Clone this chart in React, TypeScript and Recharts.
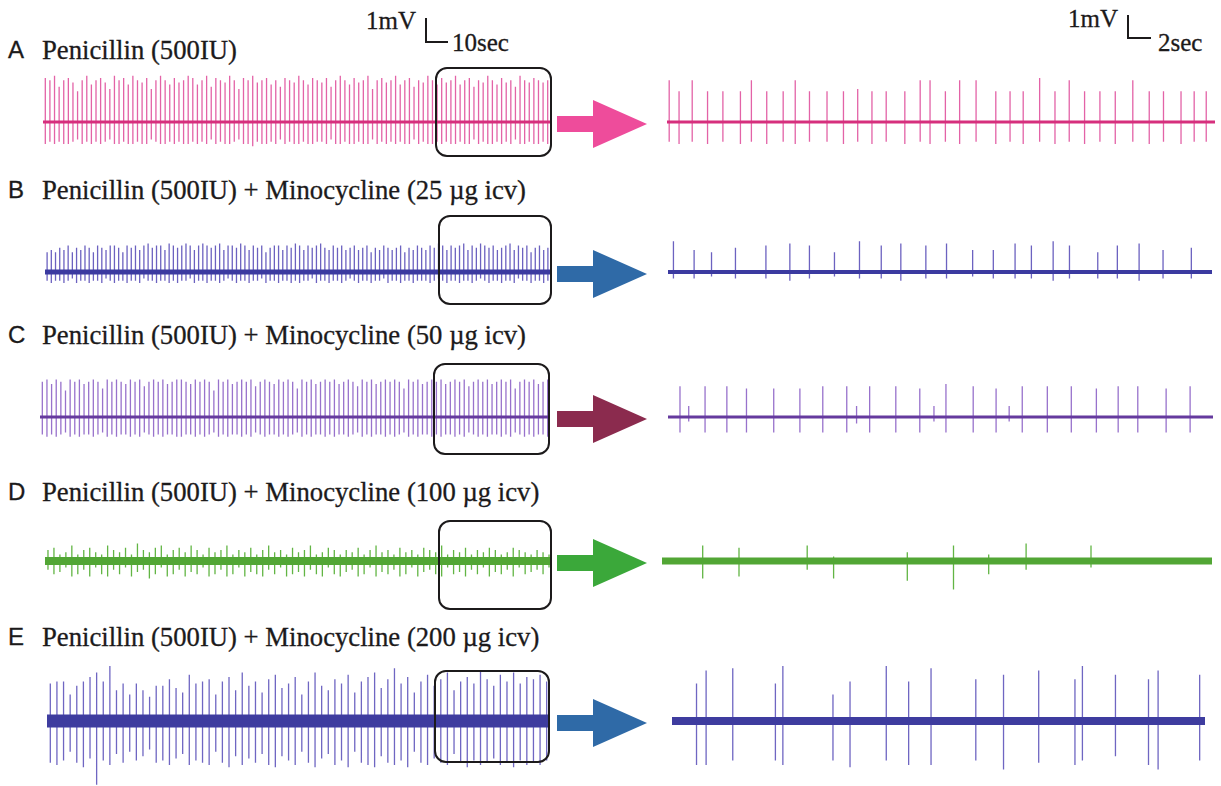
import { Line, LineChart, XAxis, YAxis } from "recharts";

// spike heights are in tenths of a millivolt
// left traces: one entry per discharge, evenly spaced over the recording
const aLeftUp = [
  20, 19, 21, 16, 19, 20, 18, 14, 19, 21, 17, 19, 20, 18, 15, 21, 19, 20, 17, 21, 19, 18, 20, 15, 19, 21, 19, 17, 20, 18,
  19, 21, 20, 17, 19, 21, 16, 20, 19, 18, 21, 19, 15, 20, 19, 21, 18, 19, 20, 17, 19, 16, 20, 19, 18, 21, 19, 17, 20, 19,
  18, 20, 16, 19, 21, 19, 17, 20, 18, 19, 21, 15, 19, 20, 18, 19, 21, 17, 19, 20, 16, 19, 18, 21, 19, 17, 20, 18, 19, 21,
  17, 19, 20, 16, 19, 18, 21, 19, 17, 20, 18, 19, 16, 21, 19, 18, 20, 19, 18, 19,
];
const aLeftDown = [
  10, 9, 10, 9, 10, 10, 9, 8, 10, 9, 10, 9, 10, 9, 8, 10, 10, 9, 10, 10, 9, 10, 10, 8, 9, 10, 10, 9, 10, 9,
  10, 10, 9, 10, 9, 10, 8, 10, 9, 10, 10, 9, 8, 10, 10, 11, 9, 10, 10, 9, 10, 8, 10, 9, 10, 10, 9, 10, 10, 9,
  9, 10, 8, 10, 10, 9, 10, 10, 9, 10, 10, 8, 10, 9, 10, 9, 10, 9, 10, 10, 8, 10, 9, 10, 10, 9, 10, 9, 10, 10,
  9, 10, 10, 8, 10, 9, 10, 10, 9, 10, 9, 10, 8, 10, 10, 9, 10, 10, 9, 10,
];
const bLeftUp = [
  9, 10, 9, 11, 10, 12, 9, 11, 10, 12, 11, 9, 12, 11, 10, 12, 12, 11, 9, 12, 11, 12, 10, 12, 13, 11, 12, 12, 10, 13,
  12, 11, 12, 13, 12, 10, 12, 13, 12, 11, 12, 13, 10, 12, 12, 11, 13, 12, 10, 12, 11, 12, 9, 11, 12, 12, 10, 12, 11, 13,
  12, 10, 12, 11, 12, 13, 11, 10, 12, 11, 12, 10, 11, 12, 10, 11, 12, 9, 11, 10, 12, 11, 10, 11, 12, 9, 11, 10, 12, 11,
  10, 12, 11, 13, 12, 10, 12, 11, 12, 13, 10, 12, 11, 13, 12, 11, 12, 10, 11, 12, 13, 10, 12, 11, 12, 9, 11, 12, 10, 11,
];
const bLeftDown = [
  4, 5, 4, 4, 5, 4, 3, 5, 4, 4, 5, 4, 4, 5, 3, 4, 5, 4, 4, 5, 4, 4, 5, 3, 4, 4, 5, 4, 4, 5,
  4, 5, 4, 4, 3, 5, 4, 4, 5, 4, 4, 5, 4, 3, 4, 5, 4, 4, 5, 4, 4, 3, 5, 4, 4, 5, 4, 4, 5, 4,
  5, 4, 4, 3, 5, 4, 4, 5, 4, 4, 5, 4, 3, 4, 5, 4, 4, 5, 4, 4, 3, 5, 4, 4, 5, 4, 4, 5, 4, 4,
  4, 5, 4, 3, 4, 5, 4, 4, 5, 4, 4, 5, 4, 3, 4, 5, 4, 4, 5, 4, 4, 5, 3, 4, 4, 5, 4, 4, 5, 4,
];
const cLeftUp = [
  16, 17, 15, 17, 16, 12, 17, 16, 17, 15, 16, 17, 16, 13, 17, 16, 17, 16, 15, 17, 16, 17, 14, 16, 17, 16, 17, 15, 16, 17,
  17, 16, 15, 17, 16, 17, 16, 12, 17, 16, 17, 15, 16, 17, 16, 17, 14, 16, 17, 16, 15, 17, 16, 17, 16, 13, 17, 16, 17, 15,
  16, 17, 16, 17, 15, 16, 17, 16, 14, 17, 16, 17, 15, 16, 17, 16, 17, 16, 13, 17, 16, 17, 15, 16, 17, 16, 17, 15, 16, 17,
  16, 17, 14, 16, 17, 16, 17, 15, 16, 17, 16, 17, 13, 16, 17, 16, 17, 15, 16, 17,
];
const cLeftDown = [
  8, 9, 8, 9, 8, 7, 9, 8, 9, 8, 8, 9, 8, 7, 9, 8, 9, 8, 8, 9, 8, 9, 7, 8, 9, 8, 9, 8, 8, 9,
  9, 8, 8, 9, 8, 9, 8, 7, 9, 8, 9, 8, 8, 9, 8, 9, 7, 8, 9, 8, 8, 9, 8, 9, 8, 7, 9, 8, 9, 8,
  8, 9, 8, 9, 8, 8, 9, 8, 7, 9, 8, 9, 8, 8, 9, 8, 9, 8, 7, 9, 8, 9, 8, 8, 9, 8, 9, 8, 8, 9,
  8, 9, 7, 8, 9, 8, 9, 8, 8, 9, 8, 9, 7, 8, 9, 8, 9, 8, 8, 9,
];
const dLeftUp = [
  5, 6, 3, 4, 7, 3, 5, 6, 4, 3, 7, 5, 4, 6, 3, 8, 5, 4, 6, 7, 3, 5, 6, 4, 7, 5, 3, 6, 4, 5,
  7, 3, 5, 4, 6, 3, 5, 7, 4, 5, 3, 6, 4, 5, 7, 3, 4, 6, 5, 3, 5, 4, 6, 3, 5, 7, 4, 5, 3, 6,
  4, 5, 3, 6, 5, 4, 7, 3, 5, 4, 6, 3, 5, 4, 6, 5, 3, 4, 6, 5, 4, 3, 5, 4, 3,
];
const dLeftDown = [
  4, 6, 5, 3, 7, 6, 4, 7, 3, 6, 7, 4, 6, 3, 7, 5, 4, 8, 6, 3, 7, 6, 4, 7, 5, 6, 3, 7, 6, 4,
  7, 6, 3, 7, 5, 6, 7, 4, 6, 3, 7, 6, 5, 7, 4, 6, 7, 3, 6, 7, 5, 4, 7, 6, 3, 7, 5, 6, 4, 7,
  6, 3, 7, 5, 4, 6, 7, 3, 6, 5, 7, 4, 6, 3, 7, 5, 6, 4, 7, 3, 6, 5, 4, 6, 3,
];
const eLeftUp = [
  17, 18, 18, 12, 16, 18, 20, 22, 18, 25, 14, 17, 12, 17, 14, 11, 16, 16, 19, 15, 13, 21, 17, 18, 19, 12, 18, 20, 14, 22,
  16, 18, 13, 19, 21, 15, 17, 20, 12, 18, 22, 16, 14, 19, 17, 21, 13, 18, 20, 22, 15, 19, 24, 17, 20, 13, 18, 21, 16, 19,
  22, 14, 18, 20, 17, 23, 19, 16, 21, 18, 22, 17, 20, 19, 21, 18,
];
const eLeftDown = [
  19, 20, 18, 14, 19, 21, 17, 29, 18, 20, 15, 19, 14, 18, 16, 13, 19, 18, 20, 17, 15, 20, 18, 19, 20, 14, 19, 21, 16, 20,
  17, 19, 15, 20, 21, 16, 18, 20, 14, 19, 21, 17, 15, 20, 18, 21, 14, 19, 20, 21, 16, 19, 20, 18, 21, 14, 19, 20, 17, 19,
  20, 15, 19, 21, 18, 20, 19, 17, 20, 19, 21, 18, 20, 19, 20, 18,
];

// right traces: expanded boxed segment, spike times in seconds (0-50 s)
const aRightT = [
  0.2, 1.1, 2.3, 3.7, 5.1, 6.7, 7.7, 9.1, 10.6, 11.7, 13.0, 14.6, 16.1, 17.4, 18.7, 20.0, 21.7, 23.1, 24.0,
  25.4, 26.7, 28.2, 30.0, 31.3, 32.5, 34.0, 35.4, 36.7, 38.1, 39.5, 40.9, 42.5, 44.0, 45.3, 46.9, 48.1, 49.2,
];
const aRightUp = [
  19, 14, 19, 14, 14, 14, 19, 14, 14, 19, 14, 14, 14, 15, 14, 14, 14, 19, 19,
  14, 19, 19, 14, 14, 14, 20, 14, 19, 14, 14, 14, 19, 14, 14, 14, 14, 14,
];
const aRightDown = [
  9, 10, 9, 10, 9, 10, 9, 10, 9, 10, 9, 9, 10, 9, 10, 9, 10, 9, 10,
  9, 10, 9, 10, 9, 10, 9, 10, 9, 10, 9, 10, 9, 10, 9, 10, 9, 9,
];
const bRightT = [
  0.5, 2.4, 4.0, 6.2, 9.0, 11.2, 13.0, 15.3, 17.6, 19.6, 21.4, 23.7, 25.6, 28.0, 29.9, 31.9, 33.4, 35.4, 36.9,
  39.5, 41.3, 43.3, 45.5, 48.1,
];
const bRightUp = [14, 10, 9, 11, 12, 13, 12, 9, 14, 12, 13, 12, 13, 10, 10, 13, 12, 14, 12, 9, 12, 13, 10, 11];
const bRightDown = [3, 3, 2, 3, 3, 4, 3, 2, 3, 3, 4, 3, 3, 2, 3, 3, 3, 4, 3, 3, 3, 4, 3, 3];
const cRightT = [
  1.1, 1.9, 3.4, 5.4, 7.2, 9.7, 12.1, 14.2, 16.4, 17.3, 18.5, 20.9, 23.1, 24.4, 25.5, 28.0, 30.1, 31.3, 32.5,
  34.8, 37.0, 39.3, 41.3, 43.1, 45.7, 47.9,
];
const cRightUp = [14, 5, 14, 14, 13, 13, 13, 14, 14, 5, 14, 14, 13, 5, 15, 14, 13, 5, 14, 14, 14, 13, 14, 14, 13, 14];
const cRightDown = [7, 2, 7, 7, 7, 7, 7, 7, 7, 3, 7, 7, 7, 2, 7, 7, 7, 2, 7, 7, 7, 7, 7, 7, 7, 7];
const dRightT = [3.7, 7.0, 13.2, 15.6, 22.3, 26.5, 29.7, 33.1, 39.0];
const dRightUp = [7, 6, 7, 2, 4, 7, 3, 8, 7];
const dRightDown = [8, 7, 4, 8, 9, 13, 6, 4, 3];
const eRightT = [
  2.3, 3.2, 5.7, 9.7, 10.4, 15.1, 16.7, 20.1, 22.2, 24.3, 28.5, 31.1, 34.4, 37.8, 38.5, 41.6, 44.7, 45.6, 49.5,
];
const eRightUp = [17, 23, 24, 17, 25, 12, 18, 25, 18, 24, 19, 21, 23, 19, 25, 21, 19, 23, 21];
const eRightDown = [20, 20, 18, 18, 20, 18, 21, 18, 20, 20, 18, 22, 19, 20, 18, 16, 20, 22, 18];

const panelLetters = ["A", "B", "C", "D", "E"];
const panelTitles = [
  "Penicillin (500IU)",
  "Penicillin (500IU) + Minocycline (25 µg icv)",
  "Penicillin (500IU) + Minocycline (50 µg icv)",
  "Penicillin (500IU) + Minocycline (100 µg icv)",
  "Penicillin (500IU) + Minocycline (200 µg icv)",
];

type Pt = { x: number; v: number; b: number };

function spikes(pos: number[], up: number[], down: number[], end: number): Pt[] {
  const pts: Pt[] = [{ x: 0, v: 0, b: 0 }];
  pos.forEach((x, i) => {
    pts.push({ x, v: 0, b: 0 }, { x, v: up[i] / 10, b: 0 }, { x, v: -(down[i] ?? 0) / 10, b: 0 }, { x, v: 0, b: 0 });
  });
  pts.push({ x: end, v: 0, b: 0 });
  return pts;
}
const slots = (n: number) => Array.from({ length: n }, (_, i) => i + 0.5);

const SERIF = '"Liberation Serif", "Times New Roman", serif';
const SANS = '"Liberation Sans", Arial, sans-serif';
const INK = "#1c1a1b";

const PX = 22; // px per mV

function Trace({
  data, xMax, x, y, w, half, spike, base, baseW,
}: {
  data: Pt[]; xMax: number; x: number; y: number; w: number; half: number;
  spike: string; base: string; baseW: number;
}) {
  const lim = half / PX;
  return (
    <div style={{ position: "absolute", left: x, top: y - half }}>
      <LineChart width={w} height={half * 2} data={data} margin={{ top: 0, right: 0, bottom: 0, left: 0 }}>
        <XAxis type="number" dataKey="x" domain={[0, xMax]} hide />
        <YAxis type="number" domain={[-lim, lim]} hide allowDataOverflow />
        <Line type="linear" dataKey="v" stroke={spike} strokeWidth={1.3} dot={false} isAnimationActive={false} />
        <Line type="linear" dataKey="b" stroke={base} strokeWidth={baseW} dot={false} isAnimationActive={false} />
      </LineChart>
    </div>
  );
}

function Arrow({ x, y, color }: { x: number; y: number; color: string }) {
  return (
    <svg style={{ position: "absolute", left: x, top: y - 24 }} width={92} height={48}>
      <polygon points="0,16 36,16 36,0 90,24 36,48 36,32 0,32" fill={color} />
    </svg>
  );
}

function Box({ x, y, w, h }: { x: number; y: number; w: number; h: number }) {
  return (
    <div
      style={{
        position: "absolute", left: x, top: y, width: w, height: h, boxSizing: "border-box",
        border: `2px solid ${INK}`, borderRadius: 12,
      }}
    />
  );
}

function Label({ x, y, text, font, size }: { x: number; y: number; text: string; font: string; size: number }) {
  return (
    <div
      style={{
        position: "absolute", left: x, top: y - size / 2, fontFamily: font, fontSize: size,
        lineHeight: `${size}px`, whiteSpace: "nowrap", color: INK, WebkitTextStroke: `0.3px ${INK}`,
      }}
    >
      {text}
    </div>
  );
}

function ScaleBar({ x, top, bottom, len }: { x: number; top: number; bottom: number; len: number }) {
  return (
    <>
      <div style={{ position: "absolute", left: x, top, width: 2, height: bottom - top, background: INK }} />
      <div style={{ position: "absolute", left: x, top: bottom - 2, width: len, height: 2, background: INK }} />
    </>
  );
}

const rows = [
  { title: 50, base: 122, box: [435, 67, 117, 90], spike: "#e363a7", line: "#d62f7d", arrow: "#ee4c9b", bw: 3, bwR: 3,
    left: spikes(slots(aLeftUp.length), aLeftUp, aLeftDown, aLeftUp.length), nL: aLeftUp.length, lx: 43, lw: 507,
    right: spikes(aRightT, aRightUp, aRightDown, 50), rx: 667, rw: 548, halfL: 56, halfR: 50 },
  { title: 190, base: 272, box: [438, 215, 114, 90], spike: "#6c62c0", line: "#3b3aa0", arrow: "#2f6aa7", bw: 5, bwR: 4,
    left: spikes(slots(bLeftUp.length), bLeftUp, bLeftDown, bLeftUp.length), nL: bLeftUp.length, lx: 45, lw: 505,
    right: spikes(bRightT, bRightUp, bRightDown, 50), rx: 668, rw: 544, halfL: 40, halfR: 40 },
  { title: 335, base: 417, box: [433, 363, 117, 92], spike: "#9872cc", line: "#653a9e", arrow: "#8b2b4e", bw: 3, bwR: 3,
    left: spikes(slots(cLeftUp.length), cLeftUp, cLeftDown, cLeftUp.length), nL: cLeftUp.length, lx: 40, lw: 510,
    right: spikes(cRightT, cRightUp, cRightDown, 50), rx: 668, rw: 545, halfL: 45, halfR: 40 },
  { title: 492, base: 561, box: [438, 520, 114, 90], spike: "#62b544", line: "#52a635", arrow: "#3ba83a", bw: 8, bwR: 7,
    left: spikes(slots(dLeftUp.length), dLeftUp, dLeftDown, dLeftUp.length), nL: dLeftUp.length, lx: 45, lw: 507,
    right: spikes(dRightT, dRightUp, dRightDown, 50), rx: 662, rw: 550, halfL: 30, halfR: 30 },
  { title: 637, base: 721, box: [434, 670, 116, 93], spike: "#6f66c2", line: "#3e3c9f", arrow: "#2f6aa7", bw: 13, bwR: 8,
    left: spikes(slots(eLeftUp.length), eLeftUp, eLeftDown, eLeftUp.length), nL: eLeftUp.length, lx: 47, lw: 503,
    right: spikes(eRightT, eRightUp, eRightDown, 50), rx: 672, rw: 533, halfL: 70, halfR: 60 },
];

export default function App() {
  return (
    <div style={{ position: "absolute", left: 0, top: 0, width: 1221, height: 786, background: "#fff", overflow: "hidden" }}>
      <Label x={366} y={20} text="1mV" font={SERIF} size={25} />
      <ScaleBar x={425} top={18} bottom={43} len={23} />
      <Label x={452} y={42} text="10sec" font={SERIF} size={25} />
      <Label x={1068} y={18} text="1mV" font={SERIF} size={25} />
      <ScaleBar x={1127} top={15} bottom={39} len={24} />
      <Label x={1158} y={42} text="2sec" font={SERIF} size={25} />

      {rows.map((r, i) => (
        <div key={panelLetters[i]}>
          <Label x={8} y={r.title} text={panelLetters[i]} font={SANS} size={24} />
          <Label x={42} y={r.title} text={panelTitles[i]} font={SERIF} size={26.7} />
          <Trace data={r.left} xMax={r.nL} x={r.lx} y={r.base} w={r.lw} half={r.halfL} spike={r.spike} base={r.line} baseW={r.bw} />
          <Box x={r.box[0]} y={r.box[1]} w={r.box[2]} h={r.box[3]} />
          <Arrow x={557} y={r.base + 2} color={r.arrow} />
          <Trace data={r.right} xMax={50} x={r.rx} y={r.base} w={r.rw} half={r.halfR} spike={r.spike} base={r.line} baseW={r.bwR} />
        </div>
      ))}
    </div>
  );
}
